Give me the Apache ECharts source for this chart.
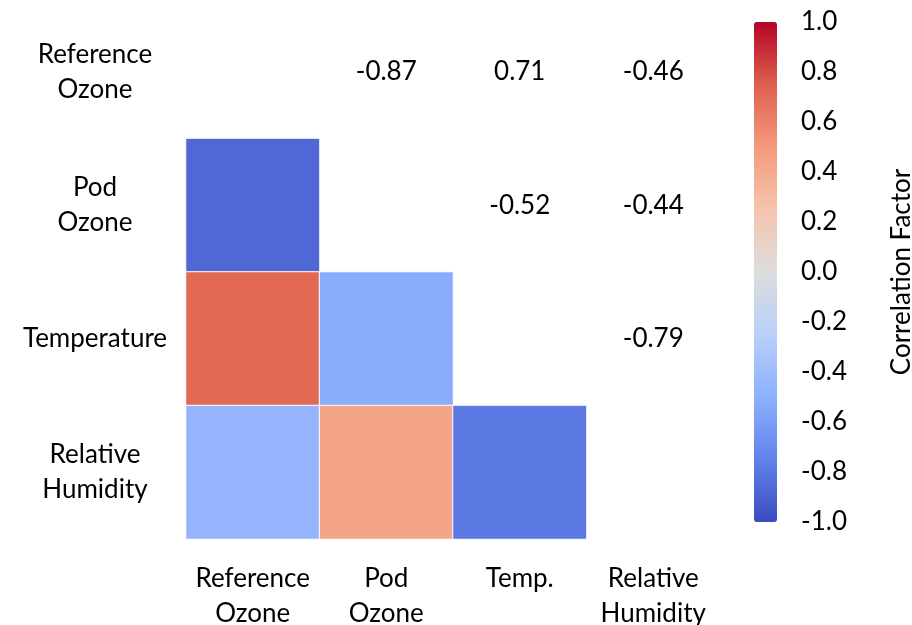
<!DOCTYPE html>
<html><head><meta charset="utf-8">
<script src="https://cdn.jsdelivr.net/npm/echarts@6/dist/echarts.min.js"></script>
<style>html,body{margin:0;padding:0;background:#fff}#c{width:912px;height:625px}</style>
</head><body><div id="c"></div>
<script>
const xCategories = ['Reference\nOzone', 'Pod\nOzone', 'Temp.', 'Relative\nHumidity'];
const yCategories = ['Reference\nOzone', 'Pod\nOzone', 'Temperature', 'Relative\nHumidity'];
// lower triangle coloured cells: [col, row, value]
const cellValues = [
  [0, 1, -0.87],
  [0, 2, 0.71], [1, 2, -0.52],
  [0, 3, -0.46], [1, 3, 0.44], [2, 3, -0.79]
];
// upper triangle printed values: [col, row, value]
const textValues = [
  [1, 0, -0.87], [2, 0, 0.71], [3, 0, -0.46],
  [2, 1, -0.52], [3, 1, -0.44],
  [3, 2, -0.79]
];
const colorbarTicks = [-1, -0.8, -0.6, -0.4, -0.2, 0, 0.2, 0.4, 0.6, 0.8, 1];
const coolwarm = ['#3b4cc0','#6282ea','#8db0fe','#b8d0f9','#dddddd','#f5c4ad','#f49a7b','#de604d','#b40426'];

const FONT = 'Lato';
const FS = 26;
const chart = echarts.init(document.getElementById('c'));
chart.setOption({
  backgroundColor: '#fff',
  textStyle: { fontFamily: FONT },
  grid: [
    { left: 186, top: 5, width: 534, height: 534, outerBoundsMode: 'none', containLabel: false },
    { left: 754, top: 22, width: 23, height: 500, outerBoundsMode: 'none', containLabel: false }
  ],
  xAxis: [
    { type: 'category', data: xCategories, gridIndex: 0, position: 'bottom',
      axisLine: { show: false }, axisTick: { show: false }, splitLine: { show: false },
      axisLabel: { fontSize: FS, color: '#000', margin: 22, lineHeight: 35, fontFamily: FONT, interval: 0 } },
    { type: 'value', gridIndex: 1, show: false, min: 0, max: 1 }
  ],
  yAxis: [
    { type: 'category', data: yCategories, gridIndex: 0, inverse: true,
      axisLine: { show: false }, axisTick: { show: false }, splitLine: { show: false },
      axisLabel: { fontSize: FS, color: '#000', margin: 91, align: 'center', lineHeight: 35, fontFamily: FONT, interval: 0 } },
    { type: 'value', gridIndex: 1, position: 'right', min: colorbarTicks[0], max: colorbarTicks[colorbarTicks.length - 1], interval: 0.2,
      axisLine: { show: false }, axisTick: { show: false }, splitLine: { show: false },
      axisLabel: { fontSize: FS, color: '#000', margin: 24, fontFamily: FONT,
        formatter: v => (Math.round(v * 10) / 10).toFixed(1) },
      name: 'Correlation Factor', nameLocation: 'middle', nameGap: 112, nameRotate: 90,
      nameTextStyle: { fontSize: FS, color: '#000', fontFamily: FONT } }
  ],
  visualMap: {
    type: 'continuous', min: -1, max: 1, seriesIndex: 0, calculable: false,
    orient: 'vertical', left: 754, top: 22, itemWidth: 23, itemHeight: 500,
    padding: 0, showLabel: false, text: null, hoverLink: false,
    inRange: { color: coolwarm }
  },
  series: [
    { type: 'heatmap', xAxisIndex: 0, yAxisIndex: 0, data: cellValues,
      itemStyle: { borderColor: '#fff', borderWidth: 1 },
      label: { show: false }, emphasis: { disabled: true } },
    { type: 'scatter', xAxisIndex: 0, yAxisIndex: 0, data: textValues,
      symbolSize: 0, silent: true, itemStyle: { opacity: 1 },
      label: { show: true, position: 'inside', fontSize: FS, color: '#000', opacity: 1, fontFamily: FONT,
        formatter: p => p.value[2].toFixed(2) } }
  ]
});
</script></body></html>
